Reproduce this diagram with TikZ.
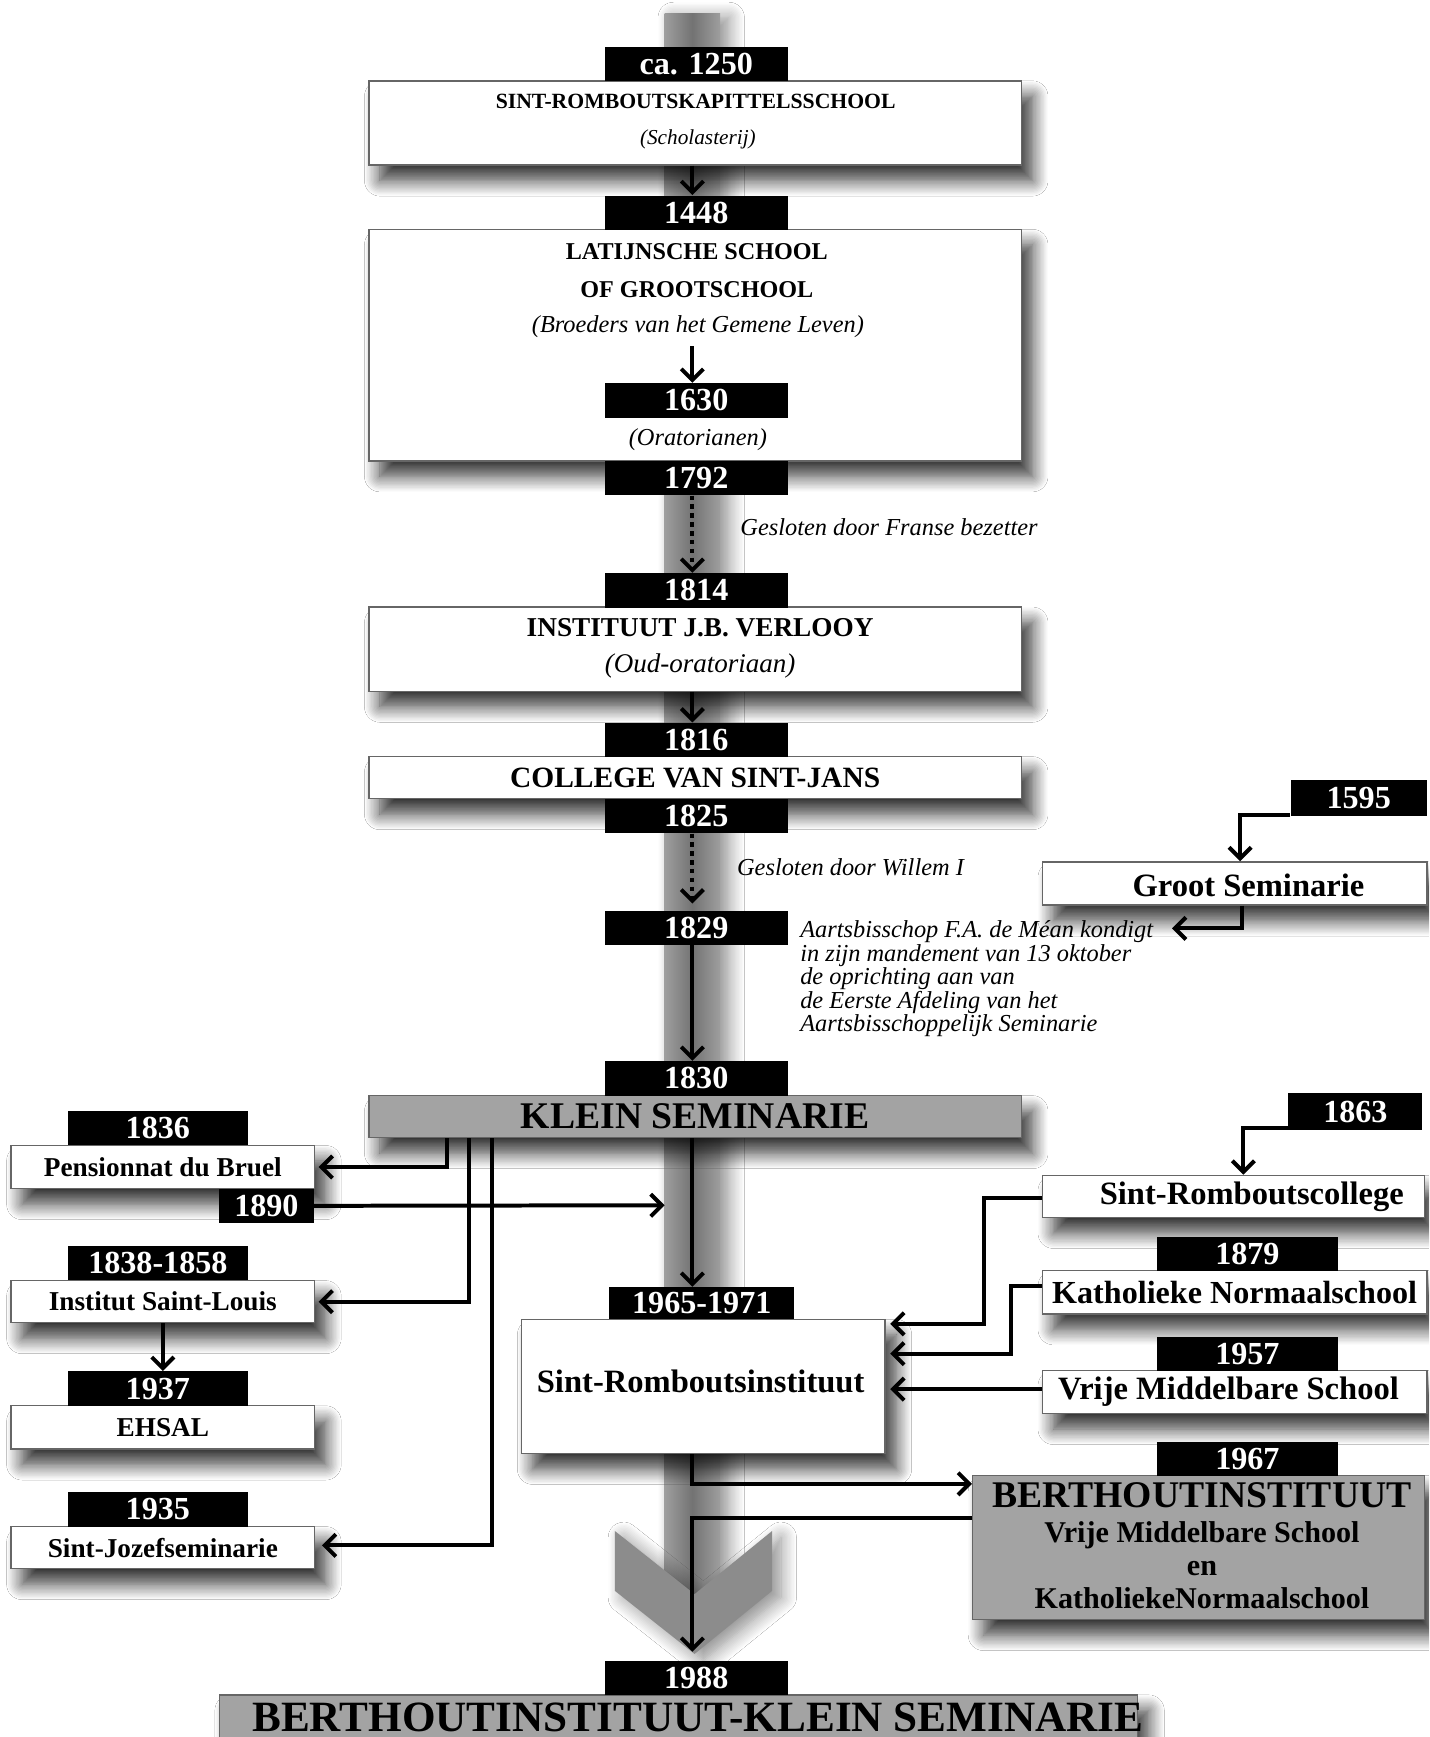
\documentclass[tikz,border=0pt]{standalone}
\usepackage{fontspec}
\setmainfont{Liberation Serif}
\usetikzlibrary{arrows.meta,shadows.blur,calc}
\newcommand\fsz[1]{\fontsize{#1}{#1}\selectfont}
\newcommand\tightlines{\lineskiplimit-20pt\relax}
\begin{document}
\begin{tikzpicture}[x=0.5pt,y=-0.5pt,
  yr/.style={fill=black,text=white,inner sep=0pt,minimum width=82.5pt,minimum height=15.5pt,font=\fsz{14.5}\bfseries},
  wbox/.style={draw=black!60,line width=0.6pt,fill=white,inner sep=0pt,
    blur shadow={shadow xshift=5pt,shadow yshift=-7pt,shadow blur radius=7pt,shadow blur steps=12,shadow opacity=80}},
  gbox/.style={wbox,fill=black!36},
  txt/.style={inner sep=0pt},
  arr/.style={line width=1.8pt,-{Straight Barb[length=5pt,width=10pt]}},
  dotarr/.style={arr,dash pattern=on 2pt off 2pt}]
\useasboundingbox (0,0) rectangle (1290,1568);
\clip (0,0) rectangle (1290,1568);
\fill[white] (0,0) rectangle (1290,1568);
% central bar
\path[left color=black!38,right color=black!38,middle color=black!55,
  blur shadow={shadow xshift=4pt,shadow yshift=-2pt,shadow blur radius=7pt,shadow blur steps=12,shadow opacity=45}]
  (600,12) rectangle (650,1440);
\path[fill=black!45,
  blur shadow={shadow xshift=4pt,shadow yshift=-3pt,shadow blur radius=7pt,shadow blur steps=12,shadow opacity=45}]
  (555,1382) -- (555,1436) -- (627,1493) -- (697,1436) -- (697,1382) -- (627,1439) -- cycle;
\coordinate (axis) at (625,0);

% ---------- boxes ----------
\node[wbox,minimum width=294.5pt,minimum height=38pt] (b1) at (627.5,111) {};
\node[wbox,minimum width=294.5pt,minimum height=104.5pt] (b2) at (627.5,311.5) {};
\node[wbox,minimum width=294.5pt,minimum height=38pt] (b3) at (627.5,586) {};
\node[wbox,minimum width=294.5pt,minimum height=19pt,font=\fsz{13.3}\bfseries] (b4) at (627.5,702) {COLLEGE VAN SINT-JANS};
\node[gbox,minimum width=294.5pt,minimum height=19pt,font=\fsz{17}\bfseries] (ks) at (627.5,1008) {KLEIN SEMINARIE};
\node[wbox,minimum width=164pt,minimum height=60.5pt] (sri) at (635,1251.5) {};
\node[gbox,minimum width=414.5pt,minimum height=30pt] (fin) at (612.5,1560) {};

\node[wbox,minimum width=137pt,minimum height=19.5pt,font=\fsz{12.3}\bfseries] (pens) at (147,1053.5) {Pensionnat du Bruel};
\node[wbox,minimum width=137pt,minimum height=19pt,font=\fsz{12.3}\bfseries] (isl) at (147,1175) {Institut Saint-Louis};
\node[wbox,minimum width=137pt,minimum height=19.5pt,font=\fsz{12.3}\bfseries] (ehsal) at (147,1288.5) {EHSAL};
\node[wbox,minimum width=137pt,minimum height=19pt,font=\fsz{12.3}\bfseries] (sjs) at (147,1397) {Sint-Jozefseminarie};

\node[wbox,minimum width=173.5pt,minimum height=19.5pt] (groot) at (1114.5,797.5) {};
\node[wbox,minimum width=172.5pt,minimum height=19pt] (src) at (1113.5,1080) {};
\node[wbox,minimum width=173.5pt,minimum height=19.5pt,font=\fsz{14.5}\bfseries] (kn) at (1114.5,1166.5) {Katholieke Normaalschool};
\node[wbox,minimum width=173.5pt,minimum height=19.5pt] (vms) at (1114.5,1256.5) {};
\node[gbox,minimum width=204pt,minimum height=65pt] (bi) at (1082,1397) {};

% ---------- texts inside boxes ----------
\node[txt,font=\fsz{9.8}\bfseries] (t1a) at (628,92) {SINT-ROMBOUTSKAPITTELSSCHOOL};
\node[txt,font=\fsz{9.6}\itshape] (t1b) at (630,126) {(Scholasterij)};
\node[txt,font=\fsz{10.9}\bfseries] (t2a) at (629,227) {LATIJNSCHE SCHOOL};
\node[txt,font=\fsz{10.9}\bfseries] (t2b) at (629,261) {OF GROOTSCHOOL};
\node[txt,font=\fsz{11}\itshape] (t2c) at (630,295) {(Broeders van het Gemene Leven)};
\node[txt,font=\fsz{11}\itshape] (t2d) at (630,397) {(Oratorianen)};
\node[txt,font=\fsz{12.3}\bfseries] (t3a) at (632,567) {INSTITUUT J.B. VERLOOY};
\node[txt,font=\fsz{12.2}\itshape] (t3b) at (632,601) {(Oud-oratoriaan)};
\node[txt,font=\fsz{14.7}\bfseries] (tsri) at (632.5,1247) {Sint-Romboutsinstituut};
\node[txt,font=\fsz{19.5}\bfseries] (tfin) at (630,1550) {BERTHOUTINSTITUUT-KLEIN SEMINARIE};
\node[txt,font=\fsz{14.7}\bfseries] (tgroot) at (1127,799) {Groot Seminarie};
\node[txt,font=\fsz{14.7}\bfseries] (tsrc) at (1130,1080) {Sint-Romboutscollege};
\node[txt,font=\fsz{14.7}\bfseries] (tvms) at (1109,1256.5) {Vrije Middelbare School};
\node[txt,anchor=north,align=center,font=\fontsize{13.6}{15}\selectfont\bfseries] (tbi) at (1085,1337.5)
  {\tightlines{\fontsize{17}{15}\selectfont BERTHOUTINSTITUUT}\\[1pt]Vrije Middelbare School\\en\\KatholiekeNormaalschool};

% ---------- side texts ----------
\node[txt,anchor=west,font=\fsz{11}\itshape] (gs1) at (668,476) {Gesloten door Franse bezetter};
\node[txt,anchor=west,font=\fsz{11}\itshape] (gs2) at (665,783) {Gesloten door Willem I};
\node[txt,anchor=north west,align=left,font=\fontsize{11}{10.6}\selectfont\itshape] (mean) at (722,831)
  {\tightlines Aartsbisschop F.A. de Méan kondigt\\in zijn mandement van 13 oktober\\de oprichting aan van\\de Eerste Afdeling van het\\Aartsbisschoppelijk Seminarie};
\coordinate (meanTip) at (1058,838);
\coordinate (barL) at (600,1088);

% ---------- year labels ----------
\node[yr] (y1250) at (628.5,57.5) {ca. 1250};
\node[yr] (y1448) at (628.5,192) {1448};
\node[yr] (y1630) at (628.5,361.5) {1630};
\node[yr] (y1792) at (628.5,431.5) {1792};
\node[yr] (y1814) at (628.5,533) {1814};
\node[yr] (y1816) at (628.5,668) {1816};
\node[yr] (y1825) at (628.5,736.5) {1825};
\node[yr] (y1829) at (628.5,837.5) {1829};
\node[yr] (y1830) at (628.5,973.5) {1830};
\node[yr,minimum width=83.5pt,minimum height=14.5pt] (y1965) at (633.5,1176.5) {1965-1971};
\node[yr] (y1988) at (628.5,1515) {1988};
\node[yr,minimum width=81.5pt] (y1836) at (142.5,1018.5) {1836};
\node[yr,minimum width=42.5pt] (y1890) at (240.5,1088.5) {1890};
\node[yr,minimum width=81.5pt] (y1838) at (142.5,1140) {1838-1858};
\node[yr,minimum width=81.5pt] (y1937) at (142.5,1253.5) {1937};
\node[yr,minimum width=81.5pt] (y1935) at (142.5,1362.5) {1935};
\node[yr,minimum width=61.5pt,minimum height=16.5pt] (y1595) at (1226.5,720.5) {1595};
\node[yr,minimum width=60.5pt,minimum height=16.5pt] (y1863) at (1223.5,1003.5) {1863};
\node[yr,minimum width=82pt] (y1879) at (1126,1132) {1879};
\node[yr,minimum width=82pt] (y1957) at (1126,1222) {1957};
\node[yr,minimum width=82pt] (y1967) at (1126,1317) {1967};

% ---------- connectors ----------
\draw[arr] (axis |- b1.south) -- (axis |- y1448.north);
\draw[arr] ($(axis |- t2c.south)+(0,7)$) -- (axis |- y1630.north);
\draw[dotarr] (axis |- y1792.south) -- (axis |- y1814.north);
\draw[arr] (axis |- b3.south) -- (axis |- y1816.north);
\draw[dotarr] (axis |- y1825.south) -- ($(axis |- y1829.north)+(0,-6)$);
\draw[arr] (axis |- y1829.south) -- (axis |- y1830.north);
\draw[arr] (axis |- ks.south) -- (axis |- y1965.north);
\draw[arr] (axis |- sri.south) |- ($(bi.north west)+(0,8)$);
\draw[arr] ($(bi.north west)+(0,39)$) -| ($(axis |- y1988.north)+(0,-8)$);
\draw[arr] (y1890.east) -- (barL);
\draw[arr] ($(ks.south west)+(71,0)$) |- ($(pens.east)+(3,0)$);
\draw[arr] ($(ks.south west)+(91,0)$) |- ($(isl.east)+(3,0)$);
\draw[arr] ($(ks.south west)+(112,0)$) |- ($(sjs.east)+(6,-2)$);
\draw[arr] (isl.south) -- (isl.south |- y1937.north);
\draw[arr] ($(y1595.south west)+(0,-2)$) -| ($(groot.north west)+(179,0)$);
\draw[arr] ($(groot.south west)+(181,0)$) |- (meanTip);
\draw[arr] ($(y1863.south west)+(0,-2)$) -| ($(src.north west)+(182,0)$);
\draw[arr] ($(src.west)+(0,1)$) -- ++(-52,0) |- ($(sri.east)+(4,-56.5)$);
\draw[arr] ([yshift=2.75pt]kn.west) -- ++(-28,0) |- ($(sri.east)+(4,-29.5)$);
\draw[arr] ([yshift=1.25pt]vms.west) -- ($([yshift=1.25pt]vms.west -| sri.east)+(4,0)$);
\end{tikzpicture}
\end{document}
